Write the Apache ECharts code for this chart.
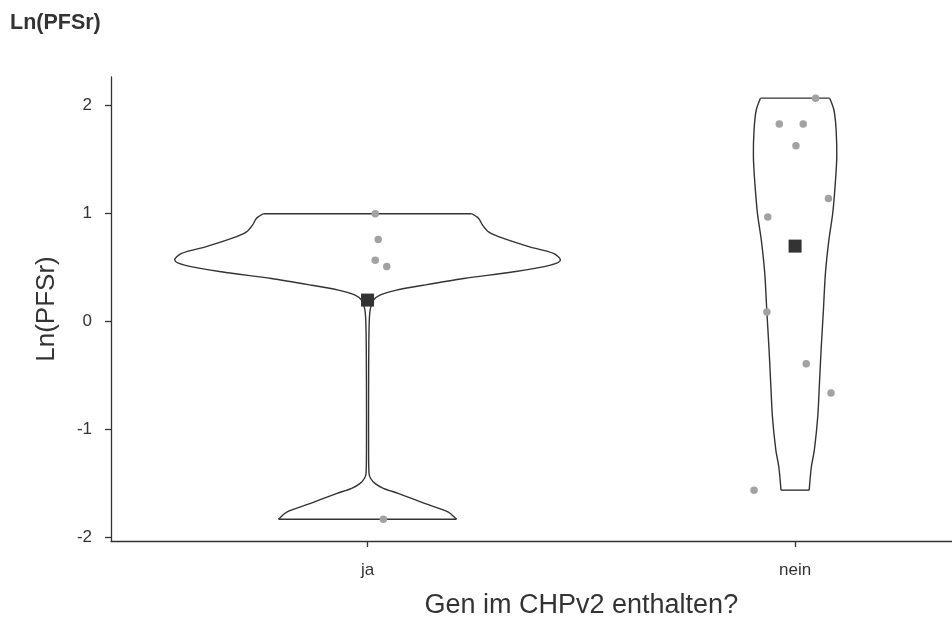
<!DOCTYPE html>
<html>
<head>
<meta charset="utf-8">
<title>Ln(PFSr)</title>
<script src="https://cdn.jsdelivr.net/npm/echarts@6/dist/echarts.min.js"></script>
<style>
  html, body { margin: 0; padding: 0; background: #ffffff; }
  #chart { width: 952px; height: 621px; }
</style>
</head>
<body>
<div id="chart"></div>
<script>
// Groups on the x axis
const categories = ['ja', 'nein'];

// Observed Ln(PFSr) values per group, with their horizontal jitter positions
const jaValues = [1.00, 0.76, 0.57, 0.51, -1.83];
const jaJitter = [1.018, 1.025, 1.018, 1.045, 1.037];
const neinValues = [2.07, 1.83, 1.83, 1.63, 1.14, 0.97, 0.09, -0.39, -0.66, -1.56];
const neinJitter = [2.048, 1.963, 2.019, 2.002, 2.078, 1.936, 1.934, 2.026, 2.084, 1.904];

// Group means
const means = [0.20, 0.70];

// Violin outlines: density levels (y) and half-widths in category units
const jaViolinY = [1.00, 0.956, 0.894, 0.832, 0.771, 0.693, 0.632, 0.570, 0.524, 0.462, 0.400, 0.338, 0.292, 0.246, 0.199, 0.107, -0.08, -0.6, -1.2, -1.404, -1.45, -1.50, -1.543, -1.592, -1.685, -1.763, -1.824, -1.83];
const jaViolinW = [0.243, 0.260, 0.269, 0.283, 0.318, 0.379, 0.435, 0.451, 0.428, 0.342, 0.225, 0.131, 0.068, 0.029, 0.014, 0.006, 0.0035, 0.0025, 0.0025, 0.0035, 0.007, 0.018, 0.037, 0.073, 0.135, 0.189, 0.207, 0.208];
const neinViolinY = [2.07, 1.958, 1.773, 1.526, 1.279, 1.003, 0.755, 0.45, 0.09, -0.25, -0.57, -0.88, -1.19, -1.346, -1.56];
const neinViolinW = [0.081, 0.091, 0.096, 0.0975, 0.094, 0.088, 0.079, 0.071, 0.066, 0.061, 0.057, 0.053, 0.045, 0.038, 0.033];

// Axis ticks
const yTicks = [-2, -1, 0, 1, 2];
const xTicks = [1, 2];

const violinY = [jaViolinY, neinViolinY];
const violinW = [jaViolinW, neinViolinW];

const FONT = '"Liberation Sans", Arial, Helvetica, sans-serif';
const INK = '#333333';

const chart = echarts.init(document.getElementById('chart'), null, { renderer: 'canvas' });

const pointData = [];
jaValues.forEach((v, k) => pointData.push([jaJitter[k], v]));
neinValues.forEach((v, k) => pointData.push([neinJitter[k], v]));

const violinStyle = { stroke: INK, lineWidth: 1.4, fill: null };

const option = {
  animation: false,
  backgroundColor: '#ffffff',
  title: {
    text: 'Ln(PFSr)',
    left: 5,
    top: 7,
    textStyle: { fontFamily: FONT, fontWeight: 'bold', fontSize: 21.5, color: INK }
  },
  grid: { left: 111, right: 0, top: 77, bottom: 80 },
  xAxis: {
    type: 'value',
    min: 0.4,
    max: 2.367,
    splitLine: { show: false },
    axisLine: { show: true, onZero: false, lineStyle: { color: INK, width: 1.3 } },
    axisTick: { show: true, customValues: xTicks, length: 6, lineStyle: { color: INK, width: 1.3 } },
    axisLabel: {
      customValues: xTicks,
      formatter: v => categories[Math.round(v) - 1],
      margin: 21,
      fontFamily: FONT, fontSize: 17, color: INK
    }
  },
  yAxis: {
    type: 'value',
    min: -2.031,
    max: 2.266,
    name: 'Ln(PFSr)',
    nameLocation: 'middle',
    nameGap: 51,
    nameTextStyle: { fontFamily: FONT, fontSize: 26, color: INK },
    splitLine: { show: false },
    axisLine: { show: true, onZero: false, lineStyle: { color: INK, width: 1.3 } },
    axisTick: { show: true, customValues: yTicks, length: 6, lineStyle: { color: INK, width: 1.3 } },
    axisLabel: {
      customValues: yTicks,
      margin: 19,
      fontFamily: FONT, fontSize: 17, color: INK
    }
  },
  series: [
    {
      type: 'custom',
      name: 'violin',
      data: categories.map((c, i) => [i + 1]),
      encode: { x: 0 },
      silent: true,
      z: 1,
      renderItem: function (params, api) {
        const i = params.dataIndex;
        const cx = api.value(0);
        const ys = violinY[i];
        const ws = violinW[i];
        const left = ys.map((y, k) => api.coord([cx - ws[k], y]));
        const right = ys.map((y, k) => api.coord([cx + ws[k], y]));
        const n = ys.length - 1;
        return {
          type: 'group',
          children: [
            { type: 'polyline', shape: { points: left, smooth: 0.3 }, style: violinStyle },
            { type: 'polyline', shape: { points: right, smooth: 0.3 }, style: violinStyle },
            { type: 'line', shape: { x1: left[0][0], y1: left[0][1], x2: right[0][0], y2: right[0][1] }, style: violinStyle },
            { type: 'line', shape: { x1: left[n][0], y1: left[n][1], x2: right[n][0], y2: right[n][1] }, style: violinStyle }
          ]
        };
      }
    },
    {
      type: 'scatter',
      name: 'points',
      data: pointData,
      symbol: 'circle',
      symbolSize: 7.5,
      z: 2,
      itemStyle: { color: '#a2a2a2', opacity: 1 }
    },
    {
      type: 'scatter',
      name: 'mean',
      data: means.map((m, i) => [i + 1, m]),
      symbol: 'rect',
      symbolSize: 13,
      z: 3,
      itemStyle: { color: '#333333', opacity: 1 }
    }
  ]
};

chart.setOption(option);

// Axis title centred on the middle of the panel (between the two groups)
const mid = chart.convertToPixel({ xAxisIndex: 0 }, 1.5);
chart.setOption({
  graphic: [{
    type: 'text',
    x: mid,
    y: 606,
    style: {
      text: 'Gen im CHPv2 enthalten?',
      fontFamily: FONT, fontSize: 27, fill: INK,
      align: 'center', verticalAlign: 'middle'
    }
  }]
});
</script>
</body>
</html>
